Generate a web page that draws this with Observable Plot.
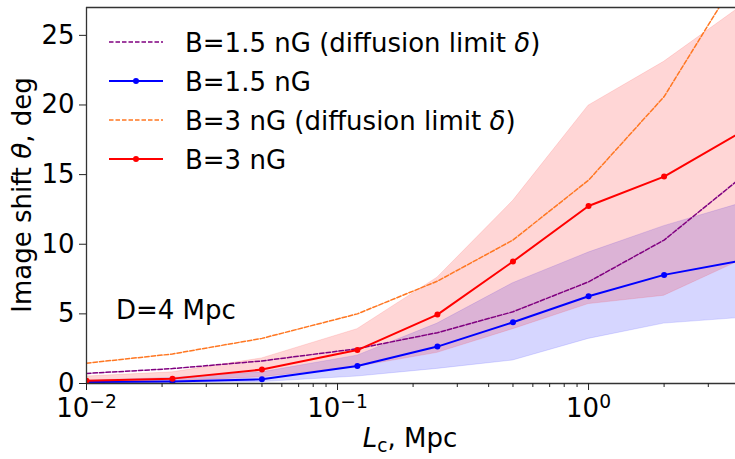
<!DOCTYPE html>
<html>
<head>
<meta charset="utf-8">
<script src="https://cdn.jsdelivr.net/npm/d3@7"></script>
<script src="https://cdn.jsdelivr.net/npm/@observablehq/plot@0.6"></script>
<style>
  html, body { margin: 0; padding: 0; background: white; }
  #chart svg { display: block; }
</style>
</head>
<body>
<div id="chart"></div>
<script>
// ---- data ----
const lc = [0.01, 0.022, 0.05, 0.12, 0.25, 0.5, 1, 2, 4];
const diff15 = [0.72, 1.07, 1.62, 2.5, 3.65, 5.15, 7.3, 10.3, 14.7];
const diff3 = [1.46, 2.12, 3.24, 5.0, 7.35, 10.3, 14.6, 20.6, 29.4];
const shift15 = [0.1, 0.15, 0.3, 1.25, 2.65, 4.4, 6.27, 7.8, 8.8];
const shift15Lo = [0.0, 0.05, 0.1, 0.5, 1.05, 1.65, 3.2, 4.3, 4.7];
const shift15Hi = [0.2, 0.4, 0.8, 2.0, 4.3, 7.2, 9.4, 11.3, 12.9];
const shift3 = [0.2, 0.35, 1.0, 2.4, 4.95, 8.76, 12.75, 14.86, 18.0];
const shift3Lo = [0.05, 0.15, 0.45, 1.2, 2.2, 3.9, 5.7, 6.3, 8.8];
const shift3Hi = [0.5, 0.8, 1.8, 3.9, 7.6, 13.1, 19.95, 23.1, 27.0];

const yTicks = [0, 5, 10, 15, 20, 25];
const xMajor = [0.01, 0.1, 1];
const xMajorExp = ["\u22122", "\u22121", "0"];
const xMinor = [0.02,0.03,0.04,0.05,0.06,0.07,0.08,0.09,0.2,0.3,0.4,0.5,0.6,0.7,0.8,0.9,2,3];

const legendItems = [
  {label: "B=1.5 nG (diffusion limit ", delta: true, color: "#800080", dashed: true},
  {label: "B=1.5 nG", delta: false, color: "blue", dashed: false},
  {label: "B=3 nG (diffusion limit ", delta: true, color: "#ff7722", dashed: true},
  {label: "B=3 nG", delta: false, color: "red", dashed: false}
];

const rows = lc.map((x, i) => ({
  x, d15: diff15[i], d3: diff3[i],
  s15: shift15[i], lo15: shift15Lo[i], hi15: shift15Hi[i],
  s3: shift3[i], lo3: shift3Lo[i], hi3: shift3Hi[i]
}));

const FONT = "DejaVu Sans";
const dash = "4.5,2";

const plot = Plot.plot({
  width: 735,
  height: 459,
  marginLeft: 86,
  marginRight: 0,
  marginTop: 7,
  marginBottom: 76,
  style: {fontFamily: FONT, fontSize: "26px", color: "black", background: "white"},
  x: {type: "log", domain: [0.01, 3.85]},
  y: {domain: [0, 27]},
  marks: [
    Plot.areaY(rows, {x: "x", y1: "lo15", y2: "hi15", fill: "blue", fillOpacity: 0.16, stroke: "blue", strokeOpacity: 0.12, clip: true}),
    Plot.areaY(rows, {x: "x", y1: "lo3", y2: "hi3", fill: "red", fillOpacity: 0.16, stroke: "red", strokeOpacity: 0.12, clip: true}),
    Plot.line(rows, {x: "x", y: "d15", stroke: "#800080", strokeWidth: 1.5, strokeDasharray: dash, clip: true}),
    Plot.line(rows, {x: "x", y: "s15", stroke: "blue", strokeWidth: 2, clip: true}),
    Plot.dot(rows, {x: "x", y: "s15", r: 3, fill: "blue", clip: true}),
    Plot.line(rows, {x: "x", y: "d3", stroke: "#ff7722", strokeWidth: 1.5, strokeDasharray: dash, clip: true}),
    Plot.line(rows, {x: "x", y: "s3", stroke: "red", strokeWidth: 2, clip: true}),
    Plot.dot(rows, {x: "x", y: "s3", r: 3, fill: "red", clip: true}),
    Plot.ruleY([0], {stroke: "#333", strokeWidth: 1.3}),
    Plot.ruleY([27], {stroke: "#333", strokeWidth: 1.3}),
    Plot.ruleX([0.01], {stroke: "#333", strokeWidth: 1.3}),
    Plot.axisY({ticks: yTicks, tickSize: 7, tickPadding: 5, label: null, stroke: "#222"}),
    Plot.axisX({ticks: xMajor, tickSize: 7, tickPadding: 8, tickFormat: () => "10", label: null, stroke: "#222"}),
    Plot.axisX({ticks: xMinor, tickSize: 4, tickFormat: () => "", label: null, stroke: "#222"})
  ]
});

document.getElementById("chart").appendChild(plot);
const svg = d3.select(plot);

// superscript exponents on the major x tick labels only
svg.select('g[aria-label="x-axis tick label"]').selectAll("text").each(function(d, i) {
  const t = d3.select(this);
  t.text(null);
  t.append("tspan").text("10");
  t.append("tspan").attr("dy", "-0.48em").attr("font-size", "0.72em").text(xMajorExp[i]);
});

// legend
const lg = svg.append("g").attr("font-family", FONT).attr("font-size", 26).attr("text-anchor", "start");
legendItems.forEach((it, i) => {
  const yy = 42 + i * 39;
  lg.append("line").attr("x1", 109).attr("x2", 163).attr("y1", yy).attr("y2", yy)
    .attr("stroke", it.color).attr("stroke-width", it.dashed ? 1.5 : 2)
    .attr("stroke-dasharray", it.dashed ? dash : null);
  if (!it.dashed) lg.append("circle").attr("cx", 136).attr("cy", yy).attr("r", 3).attr("fill", it.color);
  const tx = lg.append("text").attr("x", 185).attr("y", yy + 10).attr("fill", "black").attr("text-anchor", "start");
  tx.append("tspan").text(it.label);
  if (it.delta) {
    tx.append("tspan").attr("font-style", "italic").text("\u03b4");
    tx.append("tspan").text(")");
  }
});

// annotation
svg.append("text").attr("x", 116).attr("y", 319).attr("font-family", FONT).attr("text-anchor", "start")
  .attr("font-size", 26).attr("fill", "black").text("D=4 Mpc");

// y label
const yl = svg.append("text").attr("transform", "translate(31,195) rotate(-90)")
  .attr("text-anchor", "middle").attr("font-family", FONT).attr("font-size", 26).attr("fill", "black");
yl.append("tspan").text("Image shift ");
yl.append("tspan").attr("font-style", "italic").text("\u03b8");
yl.append("tspan").text(", deg");

// x label
const xl = svg.append("text").attr("x", 410).attr("y", 447)
  .attr("text-anchor", "middle").attr("font-family", FONT).attr("font-size", 26).attr("fill", "black");
xl.append("tspan").attr("font-style", "italic").text("L");
xl.append("tspan").attr("font-size", "0.72em").attr("dy", "0.25em").text("c");
xl.append("tspan").attr("dy", "-0.18em").text(", Mpc");
</script>
</body>
</html>
